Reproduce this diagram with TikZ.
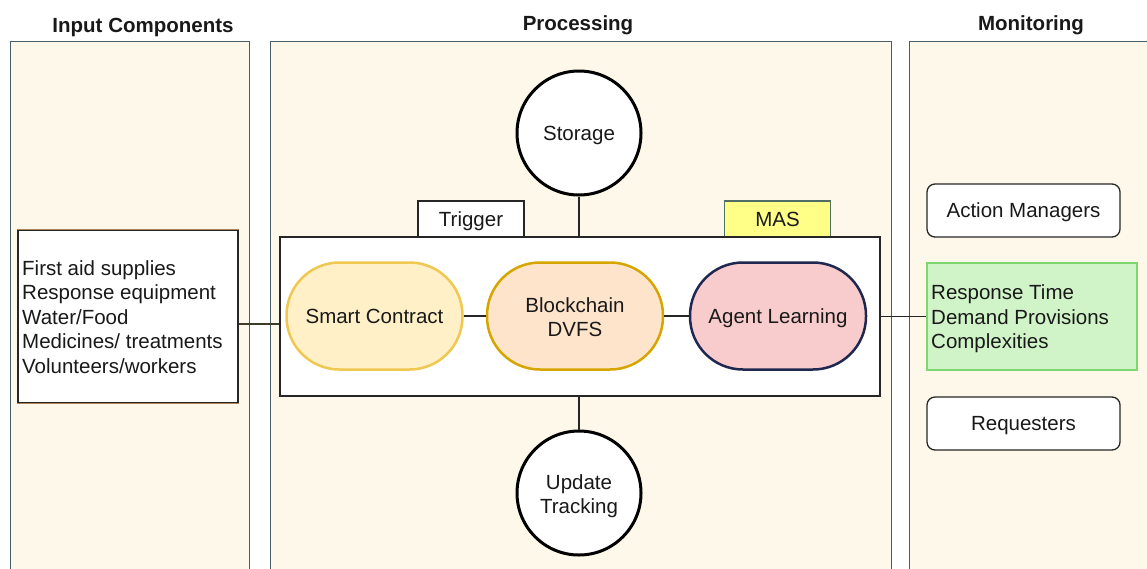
\documentclass[tikz,border=0pt]{standalone}
\usepackage{fontspec}
\setmainfont{Liberation Sans}
\definecolor{panelfill}{RGB}{253,248,233}
\definecolor{paneldraw}{RGB}{74,94,106}
\definecolor{scfill}{RGB}{255,240,200}
\definecolor{scdraw}{RGB}{240,200,80}
\definecolor{bcfill}{RGB}{255,228,204}
\definecolor{bcdraw}{RGB}{214,165,0}
\definecolor{alfill}{RGB}{248,204,204}
\definecolor{aldraw}{RGB}{30,40,80}
\definecolor{masfill}{RGB}{255,255,136}
\definecolor{masdraw}{RGB}{80,110,100}
\definecolor{metfill}{RGB}{208,244,200}
\definecolor{metdraw}{RGB}{128,214,110}
\definecolor{textcol}{RGB}{25,25,25}
\definecolor{linkol}{RGB}{60,60,40}
\definecolor{edgebrown}{RGB}{170,132,88}
\tikzset{
  every node/.style={font=\fontsize{20.5}{24.5}\selectfont, text=textcol},
  oneline/.style={text height=19pt, text depth=4.3pt},
  panel/.style={draw=paneldraw, fill=panelfill, line width=1.4pt, minimum width=#1, minimum height=560, inner sep=0pt, anchor=north west},
  ptitle/.style={oneline, font=\fontsize{20.5}{24.5}\selectfont\bfseries},
  plainbox/.style={draw=black!85, fill=white, line width=1.3pt, inner sep=0pt},
  tab/.style={oneline, draw=black!85, fill=white, line width=1.3pt, minimum width=106, minimum height=36, inner sep=0pt},
  pill/.style={line width=2.5pt, minimum width=176, minimum height=107, rounded corners=53pt, inner sep=0pt, align=center},
  disc/.style={circle, draw=black, fill=white, line width=3pt, minimum size=124, inner sep=0pt, align=center},
  roundbox/.style={oneline, draw=black!85, fill=white, line width=1.3pt, rounded corners=8pt, minimum width=193, minimum height=53, inner sep=0pt},
  link/.style={draw=black!85, line width=1.3pt},
}
\begin{document}
\begin{tikzpicture}[x=1pt, y=-1pt]
\useasboundingbox (0,0) rectangle (1147,568);
\fill[white] (0,0) rectangle (1147,568);

% column panels
\node[panel=239] (inpanel) at (10,41) {};
\node[panel=621] (procpanel) at (270,41) {};
\node[panel=250] (monpanel) at (909,41) {};
\node[ptitle] (intitle) at (143,25) {Input Components};
\node[ptitle] (proctitle) at (578,23) {Processing};
\node[ptitle] (montitle) at (1031,23) {Monitoring};

% input resources
\node[plainbox, minimum width=220, minimum height=173] (inbox) at (128,316.5) {};
\draw[edgebrown, line width=1.6pt] (inbox.north west) -- (inbox.north east)
      (inbox.south west) -- (inbox.south east);
\node[anchor=west, align=left, inner sep=0pt] (intext) at (22,317)
  {First aid supplies\\Response equipment\\Water/Food\\Medicines/ treatments\\Volunteers/workers};

% processing core
\node[tab] (trigger) at (471,219) {Trigger};
\node[tab, fill=masfill, draw=masdraw] (mas) at (777.5,219) {MAS};
\node[plainbox, minimum width=600, minimum height=159] (core) at (580,316.5) {};
\node[pill, oneline, fill=scfill, draw=scdraw] (smart) at (374.5,316) {Smart Contract};
\node[pill, fill=bcfill, draw=bcdraw, text height=41.5pt, text depth=0pt] (chain) at (575,316) {Blockchain\\DVFS};
\node[pill, oneline, fill=alfill, draw=aldraw] (agent) at (778,316) {Agent Learning};
\node[disc, oneline] (storage) at (579,133) {Storage};
\node[disc, text height=45.5pt, text depth=4.3pt] (update) at (579,493) {Update\\Tracking};

% monitoring
\node[roundbox] (managers) at (1023.5,210.5) {Action Managers};
\node[draw=metdraw, fill=metfill, line width=1.3pt, minimum width=210, minimum height=107, inner sep=0pt] (metrics) at (1032,316.5) {};
\node[anchor=west, align=left, inner sep=0pt] (mettext) at (931,319)
  {Response Time\\Demand Provisions\\Complexities};
\node[roundbox] (requesters) at (1023.5,423.5) {Requesters};

% connectors
\draw[link] (smart.east) -- (chain.west);
\draw[link] (chain.east) -- (agent.west);
\draw[link] (storage.south) -- (core.north -| storage.south);
\draw[link] (update.north) -- (core.south -| update.north);
\draw[link, draw=linkol] (inbox.east |- 0,324) -- (core.west |- 0,324);
\draw[link] (core.east) -- (metrics.west);
\end{tikzpicture}
\end{document}
